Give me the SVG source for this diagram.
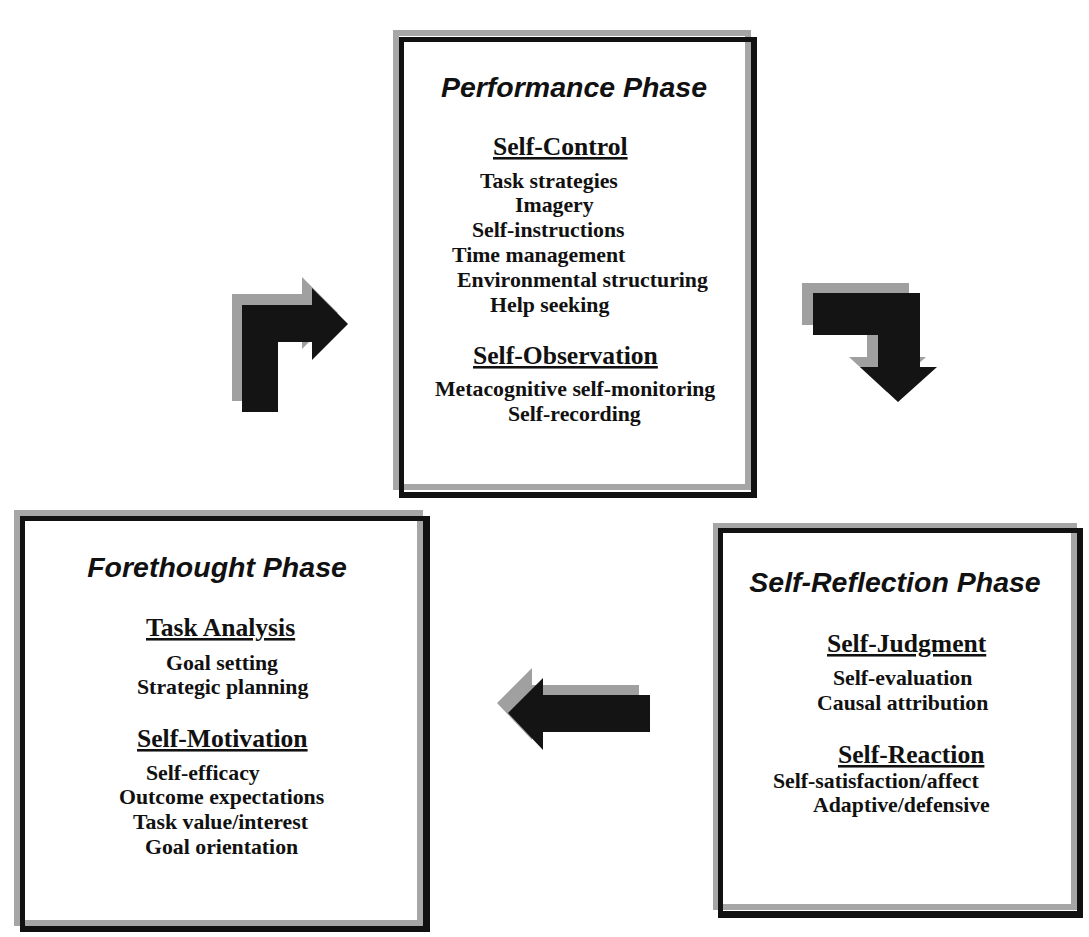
<svg xmlns="http://www.w3.org/2000/svg" width="1089" height="937" viewBox="0 0 1089 937">
<style>
.bg{fill:#ffffff}
.shadowframe{fill:none;stroke:#a6a6a6;stroke-width:6}
.frame{fill:none;stroke:#111111;stroke-width:5}
.frameheavy{fill:#111111}
.title{font-family:"Liberation Sans",Arial,sans-serif;font-weight:bold;font-style:italic;font-size:28.5px;fill:#111;text-anchor:middle}
.head{font-family:"Liberation Serif","Times New Roman",serif;font-weight:bold;font-size:25.6px;fill:#111;text-decoration:underline}
.item{font-family:"Liberation Serif","Times New Roman",serif;font-weight:bold;font-size:21.8px;fill:#111}
.ash{fill:#a0a0a0}
.arr{fill:#141414}
</style>
<rect class="bg" x="0" y="0" width="1089" height="937"/>

<g id="performance-phase">
  <rect class="shadowframe" x="396" y="33" width="352" height="454"/>
  <rect class="frame" x="401.5" y="39.5" width="352" height="455"/>
  <rect class="frameheavy" x="751" y="37" width="6" height="461"/>
  <rect class="frameheavy" x="399" y="492" width="358" height="6"/>
  <text class="title" x="574" y="97">Performance Phase</text>
  <text class="head" x="493" y="155">Self-Control</text>
  <text class="item" x="480" y="188">Task strategies</text>
  <text class="item" x="515" y="212">Imagery</text>
  <text class="item" x="472" y="237">Self-instructions</text>
  <text class="item" x="452" y="262">Time management</text>
  <text class="item" x="457" y="287">Environmental structuring</text>
  <text class="item" x="490" y="312">Help seeking</text>
  <text class="head" x="473" y="364">Self-Observation</text>
  <text class="item" x="435" y="396">Metacognitive self-monitoring</text>
  <text class="item" x="508" y="421">Self-recording</text>
</g>

<g id="forethought-phase">
  <rect class="shadowframe" x="17" y="513" width="403" height="410"/>
  <rect class="frame" x="22.5" y="518.5" width="404" height="410"/>
  <rect class="frameheavy" x="423" y="516" width="7" height="416"/>
  <rect class="frameheavy" x="20" y="926" width="410" height="6"/>
  <text class="title" x="217" y="577">Forethought Phase</text>
  <text class="head" x="146" y="636">Task Analysis</text>
  <text class="item" x="166" y="670">Goal setting</text>
  <text class="item" x="137" y="694">Strategic planning</text>
  <text class="head" x="137" y="747">Self-Motivation</text>
  <text class="item" x="146" y="780">Self-efficacy</text>
  <text class="item" x="119" y="804">Outcome expectations</text>
  <text class="item" x="133" y="829">Task value/interest</text>
  <text class="item" x="145" y="854">Goal orientation</text>
</g>

<g id="self-reflection-phase">
  <rect class="shadowframe" x="716" y="526" width="358" height="381"/>
  <rect class="frame" x="720.5" y="530.5" width="359" height="384"/>
  <rect class="frameheavy" x="1077" y="528" width="6" height="390"/>
  <rect class="frameheavy" x="718" y="911" width="365" height="7"/>
  <text class="title" x="895" y="592">Self-Reflection Phase</text>
  <text class="head" x="827" y="652">Self-Judgment</text>
  <text class="item" x="833" y="685">Self-evaluation</text>
  <text class="item" x="817" y="710">Causal attribution</text>
  <text class="head" x="838" y="763">Self-Reaction</text>
  <text class="item" x="773" y="788">Self-satisfaction/affect</text>
  <text class="item" x="813" y="812">Adaptive/defensive</text>
</g>

<g id="connectors">
  <g id="arrow-forethought-to-performance">
    <path class="ash" transform="translate(-10,-11)" d="M242,412 L242,305 L312,305 L312,288 L348,324 L312,360 L312,342 L278,342 L278,412 Z"/>
    <path class="arr" d="M242,412 L242,305 L312,305 L312,288 L348,324 L312,360 L312,342 L278,342 L278,412 Z"/>
  </g>
  <g id="arrow-performance-to-reflection">
    <path class="ash" transform="translate(-11,-10)" d="M813,293 L920,293 L920,367 L937,367 L898,402 L860,367 L878,367 L878,335 L813,335 Z"/>
    <path class="arr" d="M813,293 L920,293 L920,367 L937,367 L898,402 L860,367 L878,367 L878,335 L813,335 Z"/>
  </g>
  <g id="arrow-reflection-to-forethought">
    <path class="ash" transform="translate(-11,-10)" d="M650,695 L543,695 L543,678 L508,713 L543,750 L543,732 L650,732 Z"/>
    <path class="arr" d="M650,695 L543,695 L543,678 L508,713 L543,750 L543,732 L650,732 Z"/>
  </g>
</g>
</svg>
